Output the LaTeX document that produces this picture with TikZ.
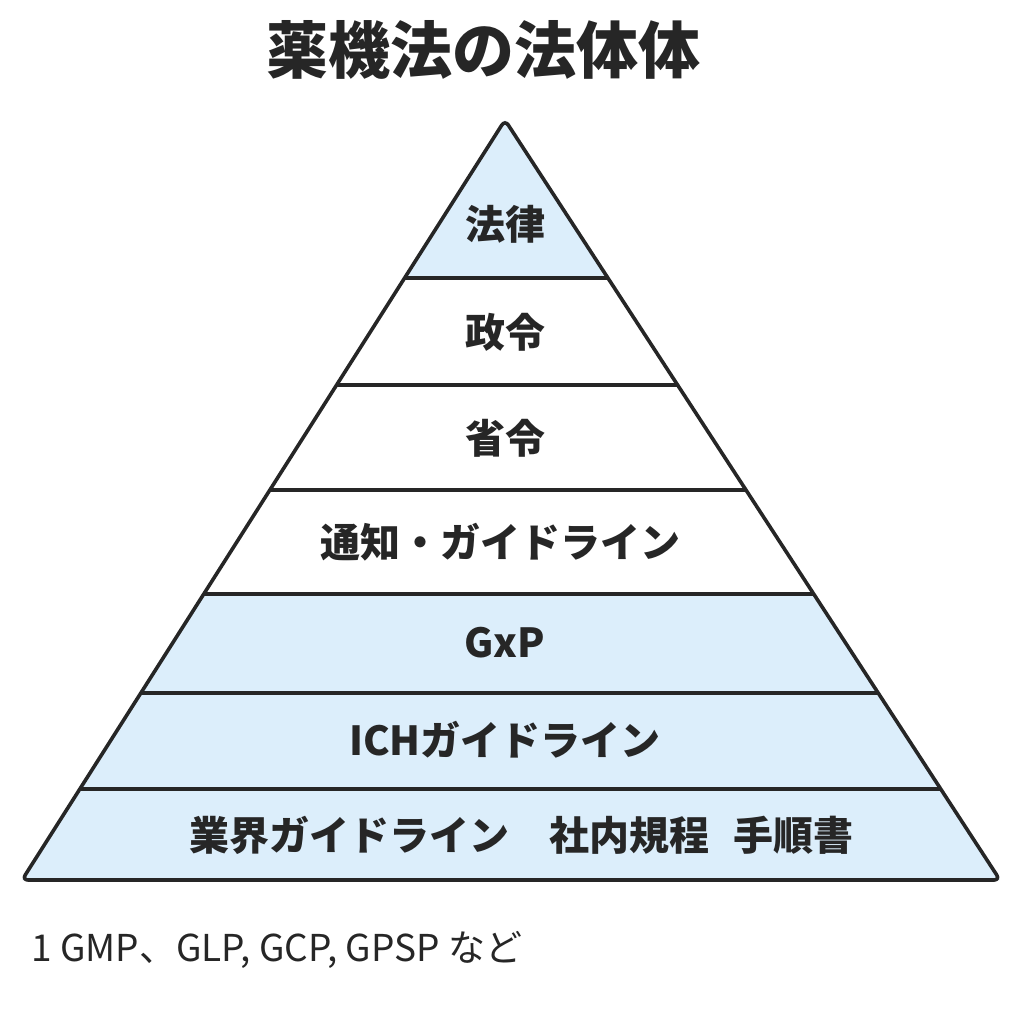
\documentclass[tikz,border=0pt]{standalone}
\usepackage{fontspec}
\setmainfont{Noto Sans CJK JP}
\usetikzlibrary{calc, positioning}
\definecolor{lvblue}{HTML}{DCEEFB}
\tikzset{
  lvtext/.style={font=\fontsize{40}{44}\selectfont\bfseries, text=black!85},
  lvline/.style={line width=3.6pt, black!85},
}
\newcommand{\lx}[1]{505-0.6355*(#1-120)}
\newcommand{\rx}[1]{505+0.6513*(#1-120)}

\begin{document}
\begin{tikzpicture}[x=1pt,y=-1pt]
\useasboundingbox (0,0) rectangle (1024,1024);
\node[font=\fontsize{62}{66}\selectfont\bfseries, text=black!85] (title) at (483,50) {薬機法の法体体};
% bands
\foreach \ya/\yb/\col in {120/278/lvblue,278/385/white,385/490/white,490/594/white,594/693/lvblue,693/789/lvblue,789/880/lvblue}
  \fill[\col] ({\lx{\ya}},\ya) -- ({\rx{\ya}},\ya) -- ({\rx{\yb}},\yb) -- ({\lx{\yb}},\yb) -- cycle;
\foreach \y in {278,385,490,594,693,789}
  \draw[lvline] ({\lx{\y}},\y) -- ({\rx{\y}},\y);
\draw[lvline, rounded corners=6pt, line join=round] (505,120) -- ({\rx{880}},880) -- ({\lx{880}},880) -- cycle;
% labels
\node[lvtext] (law) at (505,224) {法律};
\node[lvtext] (cabinet) at (505,332) {政令};
\node[lvtext] (ministry) at (505,438) {省令};
\node[lvtext] (notice) at (500,542) {通知・ガイドライン};
\node[lvtext] (gxp) at (505,643) {GxP};
\node[lvtext] (ich) at (505,740) {ICHガイドライン};
\node[lvtext] (industry) at (521,835) {業界ガイドライン\hspace{1em}社内規程\hspace{0.6em}手順書};
\node[anchor=west, font=\fontsize{37}{40}\selectfont, text=black!85] (note) at (28,950) {1 GMP、GLP, GCP, GPSP など};
\end{tikzpicture}
\end{document}
